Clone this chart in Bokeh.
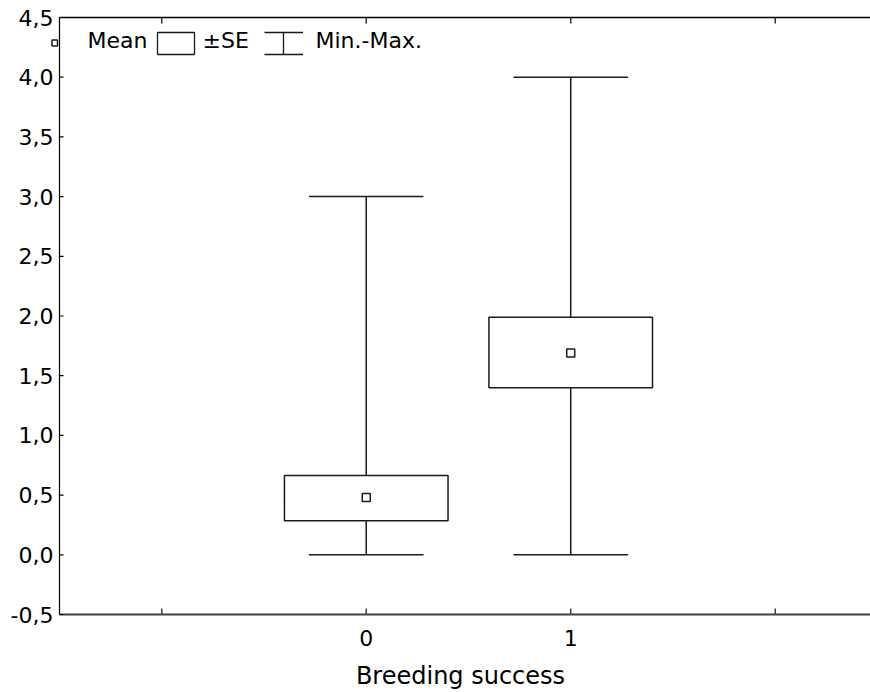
import math
from bokeh.plotting import figure
from bokeh.models import (LinearAxis, FixedTicker, Label, BoxAnnotation, PolyAnnotation,
                          Range1d, ColumnDataSource, CustomJSTickFormatter)
from bokeh.transform import dodge
from bokeh.embed import file_html
from bokeh.resources import INLINE

# ---- data ----
categories = ["0", "1"]
group_pos = [1, 2]
means = [0.48, 1.69]
se_low = [0.285, 1.40]
se_high = [0.665, 1.99]
mins = [0.0, 0.0]
maxs = [3.0, 4.0]

y_ticks = [-0.5, 0.0, 0.5, 1.0, 1.5, 2.0, 2.5, 3.0, 3.5, 4.0, 4.5]
x_ticks = [0, 1, 2, 3]
x_tick_labels = ["", "0", "1", ""]
X_MIN, Y_MIN, Y_MAX = -0.5, -0.5, 4.5     # axis limits

legend_labels = ["Mean", "±SE", "Min.-Max."]
x_title = "Breeding success"

FONT = "DejaVu Sans"
INK = "#1a1a1a"

# ---- layout (pixels) ----
W, H = 870, 692
FRAME_L, FRAME_T, FRAME_B = 50, 15, 616       # frame box on the page
AXIS_L, AXIS_T, AXIS_B = 59, 17, 614          # where the drawn axis lines sit
PX_X = (W - AXIS_L) / 3.966                   # pixels per x unit
PX_Y = (AXIS_B - AXIS_T) / (Y_MAX - Y_MIN)    # pixels per y unit
x0 = X_MIN - (AXIS_L - FRAME_L) / PX_X
x1 = x0 + (W - FRAME_L) / PX_X
y0 = Y_MIN - (FRAME_B - AXIS_B) / PX_Y
y1 = Y_MAX + (AXIS_T - FRAME_T) / PX_Y

src = ColumnDataSource(dict(x=group_pos, cat=categories, mean=means, lo=se_low,
                            hi=se_high, mn=mins, mx=maxs))

p = figure(width=W, height=H, x_range=Range1d(x0, x1), y_range=Range1d(y0, y1),
           output_backend="svg", toolbar_location=None,
           x_axis_location=None, y_axis_location=None,
           min_border_left=FRAME_L, min_border_right=0, min_border_top=FRAME_T,
           min_border_bottom=H - FRAME_B)
p.outline_line_color = None
p.background_fill_color = "white"
p.border_fill_color = "white"
for g in p.grid:
    g.visible = False

# ---- frame lines and inward ticks (Statistica style) ----
p.segment(x0=X_MIN, y0=Y_MIN, x1=X_MIN, y1=Y_MAX, line_color="black", line_width=1.2)
p.ray(x=X_MIN, y=Y_MAX, length=0, angle=0, line_color="black", line_width=1.5)
p.ray(x=X_MIN, y=Y_MIN, length=0, angle=0, line_color="#404040", line_width=2)
p.ray(x=[X_MIN] * len(y_ticks), y=y_ticks, length=4, length_units="screen", angle=0,
      line_color="black", line_width=1.2)
p.ray(x=x_ticks, y=[Y_MAX] * len(x_ticks), length=6, length_units="screen",
      angle=-math.pi / 2, line_color="#303030", line_width=1.5)
p.ray(x=x_ticks, y=[Y_MIN] * len(x_ticks), length=6, length_units="screen",
      angle=math.pi / 2, line_color="#404040", line_width=1.5)

# whiskers (min-max) with caps
p.segment(x0="x", y0="mn", x1="x", y1="mx", source=src, line_color=INK, line_width=1.5)
p.segment(x0=dodge("x", -0.28), y0="mn", x1=dodge("x", 0.28), y1="mn", source=src,
          line_color=INK, line_width=1.5)
p.segment(x0=dodge("x", -0.28), y0="mx", x1=dodge("x", 0.28), y1="mx", source=src,
          line_color=INK, line_width=1.5)
# SE boxes
p.vbar(x="x", width=0.8, bottom="lo", top="hi", source=src, fill_color="white",
       line_color=INK, line_width=1.5)
# means
p.scatter(x="x", y="mean", source=src, marker="square", size=8, fill_color="white",
          line_color=INK, line_width=1.5)

# ---- axes (labels only; lines/ticks drawn above) ----
yax = LinearAxis(ticker=FixedTicker(ticks=y_ticks),
                 formatter=CustomJSTickFormatter(code="return tick.toFixed(1).replace('.', ',');"))
yax.axis_line_color = None
yax.major_tick_line_color = None
yax.minor_tick_line_color = None
yax.major_tick_in = 0
yax.major_tick_out = 0
yax.major_label_standoff = -3
yax.major_label_text_font = FONT
yax.major_label_text_font_size = "22px"
yax.major_label_text_color = "black"
p.add_layout(yax, "left")

xax = LinearAxis(ticker=FixedTicker(ticks=x_ticks),
                 major_label_overrides=dict(zip(x_ticks, x_tick_labels)),
                 axis_label=x_title)
xax.axis_line_color = None
xax.major_tick_line_color = None
xax.minor_tick_line_color = None
xax.major_tick_in = 0
xax.major_tick_out = 0
xax.major_label_standoff = 13
xax.major_label_text_font = FONT
xax.major_label_text_font_size = "22px"
xax.major_label_text_color = "black"
xax.axis_label_standoff = 13
xax.axis_label_text_font = FONT
xax.axis_label_text_font_size = "24px"
xax.axis_label_text_font_style = "normal"
xax.axis_label_text_color = "black"
p.add_layout(xax, "below")

# ---- legend (Statistica style), positioned in screen units relative to the frame ----
def sx(px):
    return px - FRAME_L


def sy(py):
    return FRAME_B - py


def screen_box(l, r, t, b, lw):
    return BoxAnnotation(left=sx(l), right=sx(r), top=sy(t), bottom=sy(b),
                         left_units="screen", right_units="screen", top_units="screen",
                         bottom_units="screen", fill_color="white", fill_alpha=1,
                         line_color=INK, line_width=lw, line_alpha=1)


p.add_layout(screen_box(51.5, 57, 39.5, 45.5, 1.5))     # mean marker icon
p.add_layout(screen_box(157, 194, 32, 54, 1.3))         # SE box icon
wx = [264, 302.5, 283, 283, 264, 302.5, 283, 283]
wy = [32, 32, 32, 54, 54, 54, 54, 32]
p.add_layout(PolyAnnotation(xs=[sx(v) for v in wx], ys=[sy(v) for v in wy],
                            xs_units="screen", ys_units="screen", fill_alpha=0,
                            line_color=INK, line_width=1.3, line_alpha=1))
for lx, txt in zip([87, 202, 315], legend_labels):
    p.add_layout(Label(x=sx(lx), y=sy(40), x_units="screen", y_units="screen", text=txt,
                       text_font=FONT, text_font_size="22px", text_color="black",
                       text_baseline="middle", text_align="left"))

open("out.html", "w").write(file_html(p, INLINE))
